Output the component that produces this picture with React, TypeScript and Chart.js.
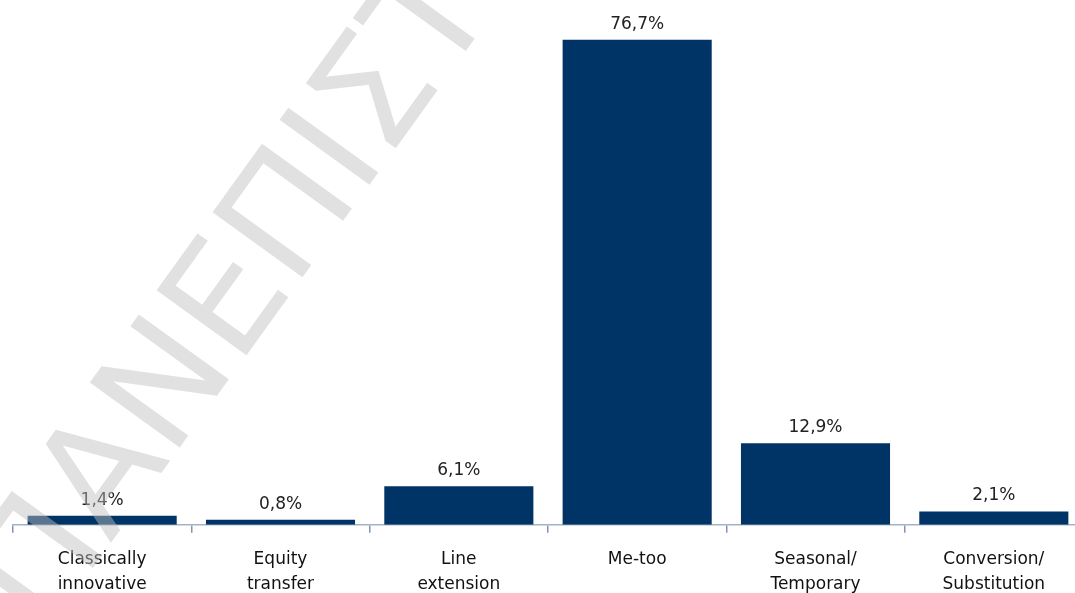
import React, { useEffect, useRef } from "react";
import { Chart, registerables } from "chart.js";

Chart.register(...registerables);

const categories: string[][] = [
  ["Classically", "innovative"],
  ["Equity", "transfer"],
  ["Line", "extension"],
  ["Me-too"],
  ["Seasonal/", "Temporary"],
  ["Conversion/", "Substitution"],
];
const shares: number[] = [1.4, 0.8, 6.1, 76.7, 12.9, 2.1];
const watermarkText = "ΠΑΝΕΠΙΣΤΗΜΙΟ";

const BAR_COLOR = "#003366";
const FONT = "'DejaVu Sans', sans-serif";

const valueLabelPlugin = {
  id: "valueLabels",
  afterDatasetsDraw(chart: any) {
    const ctx = chart.ctx;
    const meta = chart.getDatasetMeta(0);
    ctx.save();
    ctx.font = `17px ${FONT}`;
    ctx.fillStyle = "#222222";
    ctx.textAlign = "center";
    ctx.textBaseline = "alphabetic";
    meta.data.forEach((bar: any, i: number) => {
      const txt = shares[i].toFixed(1).replace(".", ",") + "%";
      ctx.fillText(txt, bar.x, bar.y - 11);
    });
    ctx.restore();
  },
};

const watermarkPlugin = {
  id: "watermark",
  afterDraw(chart: any) {
    const ctx = chart.ctx;
    ctx.save();
    ctx.font = `400 152px ${FONT}`;
    ctx.fillStyle = "rgba(191,191,191,0.47)";
    ctx.textAlign = "left";
    ctx.textBaseline = "alphabetic";
    const theta = (-54.2 * Math.PI) / 180;
    const rx = Math.cos(theta);
    const ry = Math.sin(theta);
    const anchorIndex = 4;
    const before = ctx.measureText(watermarkText.slice(0, anchorIndex)).width;
    const pi = ctx.measureText(watermarkText[anchorIndex]);
    const off = before - pi.actualBoundingBoxLeft;
    const px = 302;
    const py = 278;
    const ox = px - off * rx;
    const oy = py - off * ry;
    ctx.translate(ox, oy);
    ctx.rotate(theta);
    ctx.fillText(watermarkText, 0, 0);
    ctx.restore();
  },
};

export default function App() {
  const ref = useRef<HTMLCanvasElement | null>(null);
  useEffect(() => {
    if (!ref.current) return;
    const chart = new Chart(ref.current, {
      type: "bar",
      data: {
        labels: categories,
        datasets: [
          {
            data: shares,
            backgroundColor: BAR_COLOR,
            borderWidth: 0,
            barPercentage: 0.836,
            categoryPercentage: 1,
          },
        ],
      },
      options: {
        animation: false,
        responsive: false,
        maintainAspectRatio: false,
        devicePixelRatio: 1,
        layout: { padding: { left: 13, right: 7, top: 0, bottom: 0 } },
        plugins: {
          legend: { display: false },
          tooltip: { enabled: false },
          title: { display: false },
        },
        scales: {
          x: {
            grid: {
              display: true,
              drawOnChartArea: false,
              drawTicks: true,
              tickLength: 8,
              tickColor: "#8096b0",
              offset: true,
              lineWidth: 1.5,
            },
            border: { display: true, color: "#a3b3c5", width: 1.5 },
            ticks: {
              color: "#111111",
              padding: 15,
              maxRotation: 0,
              autoSkip: false,
              font: { family: FONT, size: 17, lineHeight: 1.45 },
            },
          },
          y: {
            display: false,
            min: 0,
            max: 83,
          },
        },
      },
      plugins: [valueLabelPlugin, watermarkPlugin],
    });
    return () => chart.destroy();
  }, []);
  return (
    <div
      style={{
        position: "fixed",
        left: 0,
        top: 0,
        width: 1075,
        height: 593,
        overflow: "hidden",
        background: "#ffffff",
      }}
    >
      <canvas ref={ref} width={1090} height={612} style={{ display: "block" }} />
    </div>
  );
}
